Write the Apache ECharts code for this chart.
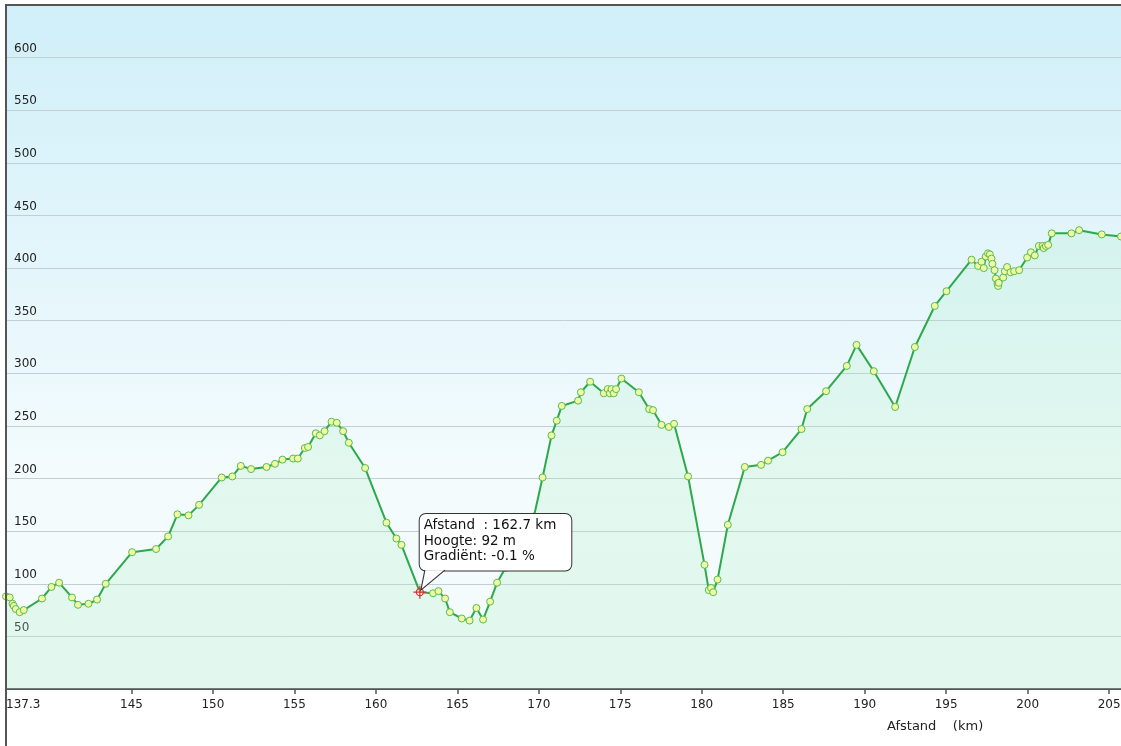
<!DOCTYPE html>
<html><head><meta charset="utf-8">
<script src="https://cdn.jsdelivr.net/npm/echarts@6/dist/echarts.min.js"></script>
<style>html,body{margin:0;padding:0;background:#fff;overflow:hidden}#c{width:1140px;height:746px}</style>
</head><body><div id="c"></div>
<script>
const distanceKm = [
  137.30,137.53,137.70,137.78,137.90,138.14,138.39,139.51,140.09,140.56,
  141.35,141.72,142.36,142.89,143.42,145.04,146.51,147.25,147.82,148.50,
  149.15,150.54,151.19,151.71,152.34,153.29,153.81,154.27,154.92,155.21,
  155.64,155.84,156.31,156.56,156.85,157.28,157.60,157.99,158.34,159.34,
  160.65,161.26,161.57,162.70,163.51,163.84,164.25,164.54,165.27,165.75,
  166.17,166.58,167.01,167.44,167.95,168.46,169.34,169.70,170.23,170.78,
  171.10,171.41,172.41,172.58,173.15,173.99,174.23,174.36,174.46,174.60,
  174.74,175.07,176.14,176.77,177.01,177.53,177.98,178.30,179.16,180.17,
  180.43,180.57,180.70,180.97,181.60,182.64,183.64,184.07,184.96,186.12,
  186.47,187.63,188.90,189.50,190.56,191.87,193.08,194.30,195.02,196.56,
  196.96,197.17,197.31,197.43,197.57,197.68,197.78,197.84,197.97,198.05,
  198.15,198.19,198.23,198.50,198.60,198.74,198.95,199.17,199.48,199.97,
  200.20,200.44,200.69,200.91,200.99,201.12,201.26,201.48,202.69,203.16,
  204.55,205.73
];
const elevationM = [
  88,87,81,79,76,73,75,86,97,101,
  87,80,81,85,100,130,133,145,166,165,
  175,201,202,212,209,211,214,218,219,219,
  229,230,243,241,245,254,253,245,234,210,
  158,143,137,92,91,93,86,73,67,65,
  77,66,83,101,115,118,149,164,201,241,
  255,269,274,282,292,281,285,281,285,281,
  285,295,282,266,265,251,249,252,202,118,
  94,96,92,104,156,211,213,217,225,247,
  266,283,307,327,302,268,325,364,378,408,
  402,406,400,411,414,413,409,404,398,390,
  385,383,386,391,397,401,396,397,398,410,
  415,412,421,421,419,421,422,433,433,436,
  432,430
];
const xTickValues = [145,150,155,160,165,170,175,180,185,190,195,200,205];
const xLabelValues = [137.3,145,150,155,160,165,170,175,180,185,190,195,200,205];
const yLabelValues = [50,100,150,200,250,300,350,400,450,500,550,600];
const tipDistance = 162.7;
const tipHeight = 92;
const tipGradient = -0.1;
const axisTitle = 'Afstand    (km)';

const FONT = '"DejaVu Sans", Verdana, sans-serif';
const chart = echarts.init(document.getElementById('c'), null, {renderer: 'canvas'});

const points = distanceKm.map((d, i) => {
  const item = {value: [d, elevationM[i]]};
  if (d === tipDistance) item.symbol = 'none';
  return item;
});

const tipText = 'Afstand  : ' + tipDistance + ' km\nHoogte: ' + tipHeight + ' m\nGradiënt: ' + tipGradient + ' %';

const option = {
  animation: false,
  title: {
    text: axisTitle, left: 887, top: 720, padding: 0,
    textStyle: {fontSize: 13, fontWeight: 'normal', color: '#222', fontFamily: FONT}
  },
  grid: {
    left: 6, right: 19, top: 5, bottom: 57, show: true, borderWidth: 0,
    backgroundColor: {type: 'linear', x: 0, y: 0, x2: 0, y2: 1, colorStops: [
      {offset: 0, color: '#d0eff9'}, {offset: 0.68, color: '#f3fbfd'}, {offset: 1, color: '#f4fbfc'}
    ]}
  },
  xAxis: {
    type: 'value', min: 137.3, max: 205.73,
    axisLine: {show: true, lineStyle: {color: '#555', width: 2}},
    axisTick: {show: true, customValues: xTickValues, length: 5, lineStyle: {color: '#555', width: 1.5}},
    axisLabel: {customValues: xLabelValues, alignMinLabel: 'left', color: '#222', fontSize: 12, fontFamily: FONT, margin: 10},
    splitLine: {show: false}
  },
  yAxis: {
    type: 'value', min: 0, max: 650, interval: 50,
    axisLine: {show: false}, axisTick: {show: false},
    axisLabel: {inside: true, customValues: yLabelValues, margin: 8, verticalAlign: 'bottom', padding: [0, 0, 3, 0],
      color: '#222', fontSize: 12, fontFamily: FONT},
    splitLine: {show: true, lineStyle: {color: '#c2ced4', width: 1}}
  },
  graphic: [
    {type: 'line', shape: {x1: 6, y1: 5, x2: 6, y2: 746}, style: {stroke: '#555', lineWidth: 2}, z: 100},
    {type: 'line', shape: {x1: 5, y1: 5, x2: 1121, y2: 5}, style: {stroke: '#555', lineWidth: 2}, z: 100}
  ],
  series: [
    {
      type: 'line', data: points, z: 2, silent: true,
      symbol: 'circle', symbolSize: 7, showAllSymbol: true,
      lineStyle: {color: '#2da84a', width: 2},
      itemStyle: {color: '#eefaa6', borderColor: '#5dbb4c', borderWidth: 1},
      areaStyle: {origin: 'start', color: {type: 'linear', x: 0, y: 0, x2: 0, y2: 1, colorStops: [
        {offset: 0, color: 'rgba(160,235,185,0.27)'}, {offset: 1, color: 'rgba(175,240,200,0.38)'}
      ]}},
      emphasis: {disabled: true},
      markPoint: {
        z: 5, silent: true, animation: false,
        data: [{
          coord: [tipDistance, tipHeight],
          symbol: 'path://M6.5,0 L6.5,13 M0,6.5 L13,6.5 M10,6.5 A3.5,3.5 0 1 1 3,6.5 A3.5,3.5 0 1 1 10,6.5',
          symbolSize: 13,
          itemStyle: {color: 'rgba(255,255,255,0.6)', borderColor: '#d9312b', borderWidth: 1.3},
          label: {
            show: true, position: [7, -71], formatter: tipText,
            align: 'left', verticalAlign: 'top',
            backgroundColor: '#fff', borderColor: '#333', borderWidth: 1, borderRadius: 6,
            padding: [4, 15, 6, 4], lineHeight: 15.5, fontSize: 13.5, fontFamily: FONT, color: '#111'
          }
        }]
      }
    },
    {
      type: 'line', data: [[tipDistance, tipHeight]], z: 3, silent: true, symbol: 'none',
      lineStyle: {width: 0},
      markPoint: {
        z: 6, silent: true, animation: false,
        data: [{
          coord: [tipDistance, tipHeight],
          symbol: 'path://M24,0 L0,20 L4,0', symbolSize: [24, 20], symbolOffset: [13, -12],
          itemStyle: {color: '#fff', borderColor: '#333', borderWidth: 1},
          label: {show: false}
        }]
      }
    }
  ]
};
chart.setOption(option);
</script>
</body></html>
